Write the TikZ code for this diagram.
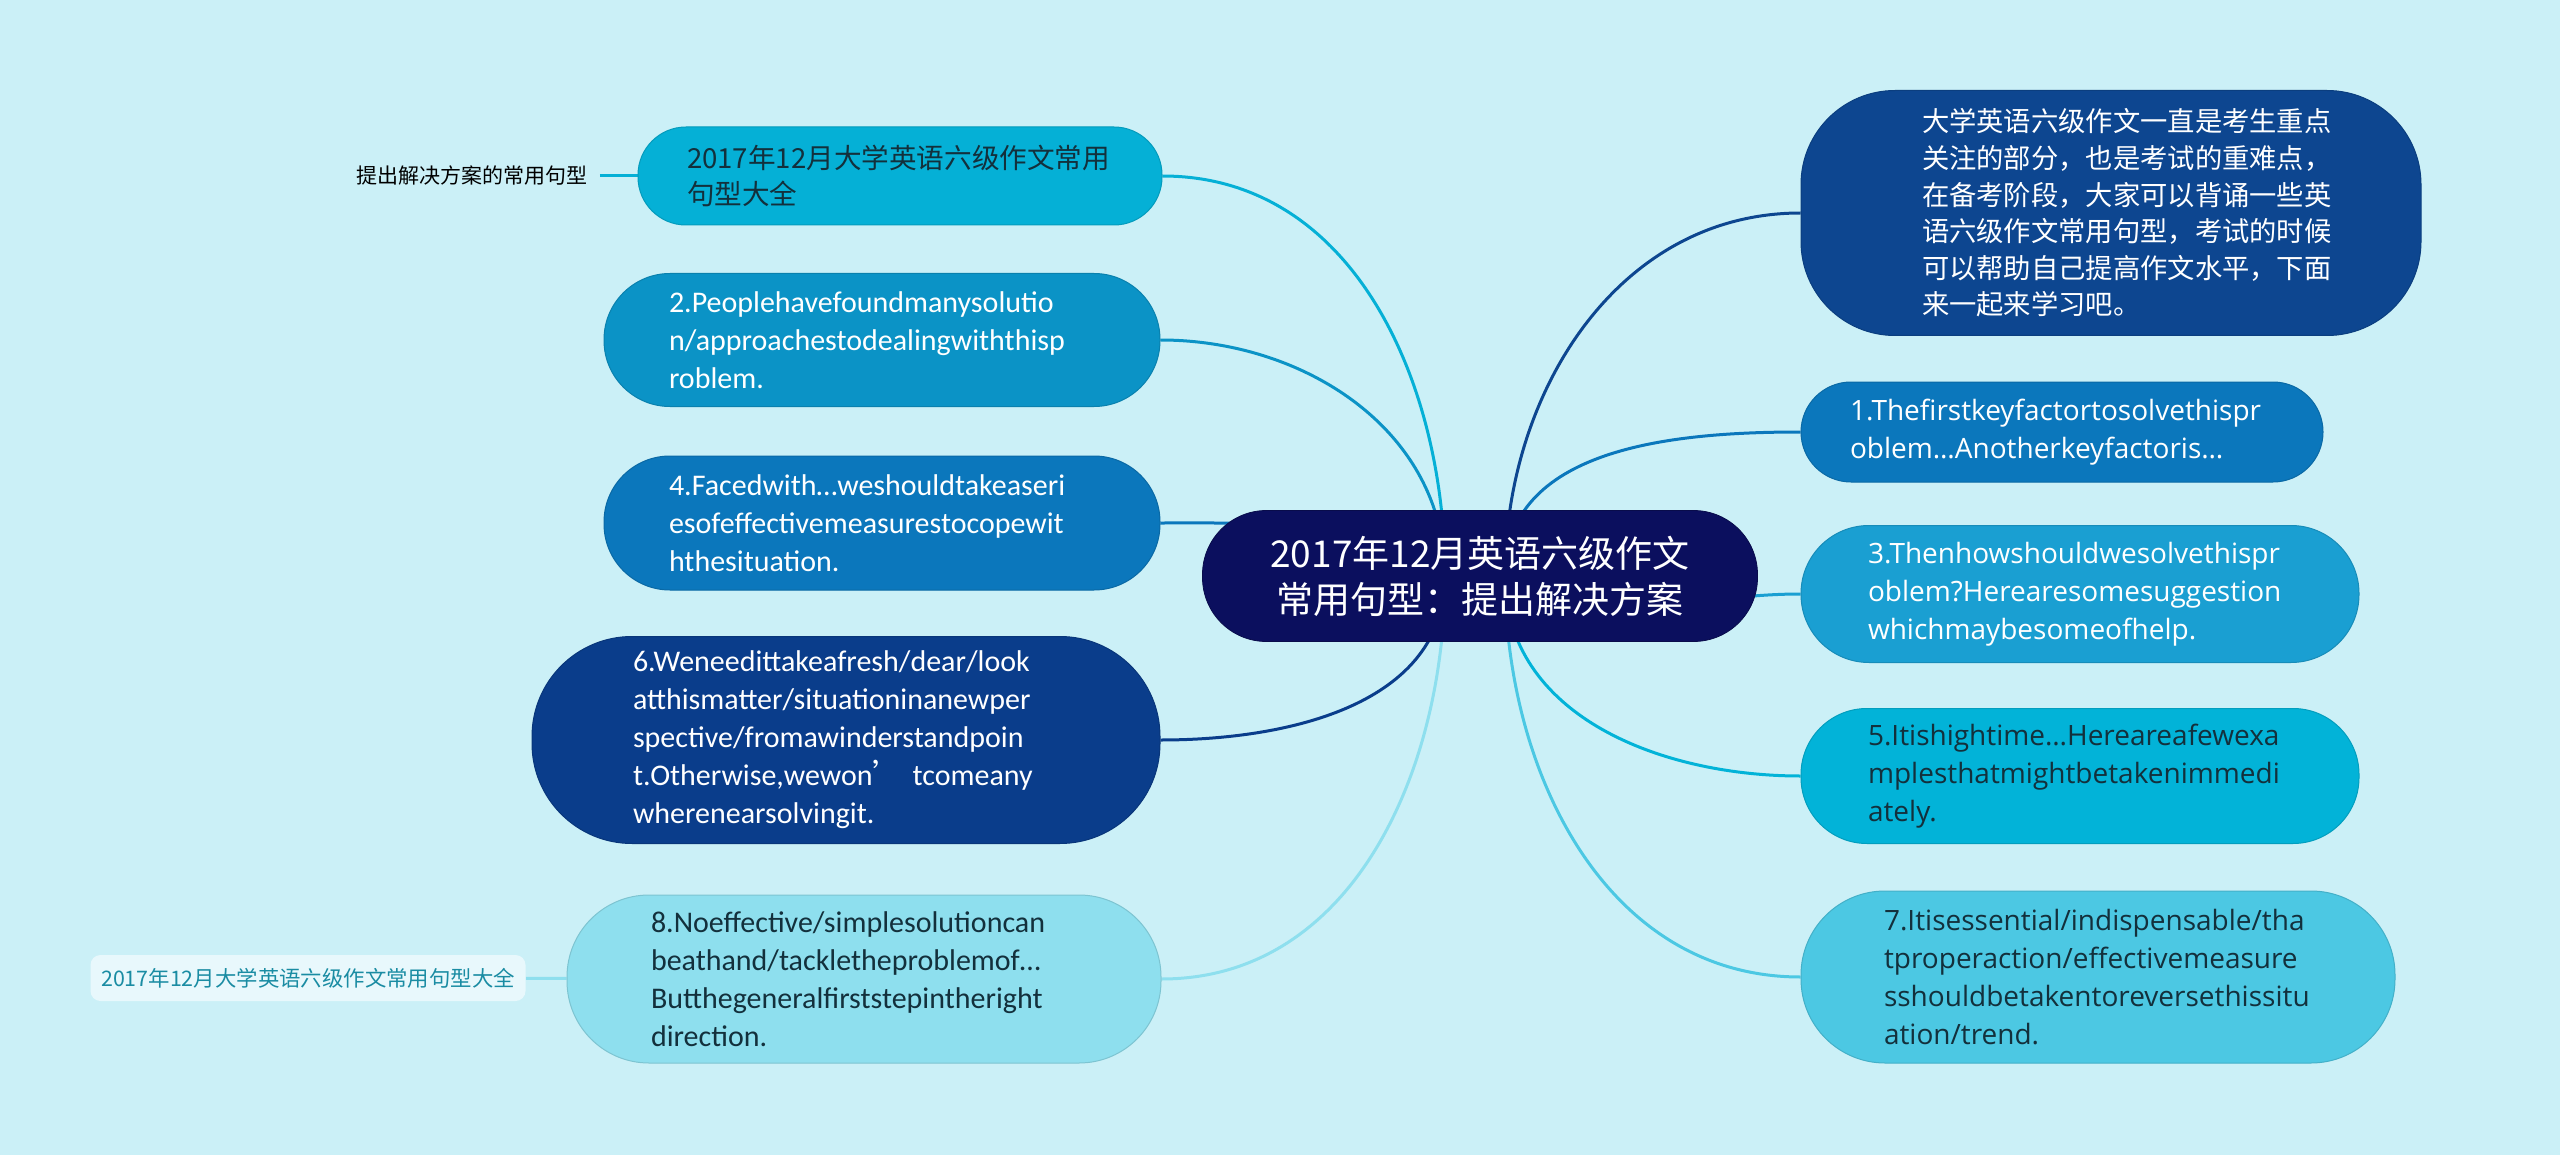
\documentclass[tikz,border=0pt]{standalone}
\usepackage{fontspec}
\setmainfont{Carlito}
\newfontfamily\cjk{Noto Sans CJK SC}
\newfontfamily\segoe{Open Sans}
\usetikzlibrary{backgrounds}

\definecolor{bgcol}{HTML}{CBF0F7}
\definecolor{navy}{HTML}{0B0F5E}
\definecolor{cyanA}{HTML}{05B0D6}
\definecolor{blueB}{HTML}{0B93C6}
\definecolor{blueC}{HTML}{0B77BC}
\definecolor{blueD}{HTML}{0A3D8B}
\definecolor{cyanE}{HTML}{8EDFEE}
\definecolor{blueR}{HTML}{0D4690}
\definecolor{cyanR}{HTML}{1A9FD2}
\definecolor{cyanS}{HTML}{02B3D8}
\definecolor{cyanT}{HTML}{4CC8E3}
\definecolor{darktext}{HTML}{13303C}
\definecolor{leafbg}{HTML}{E8F8FC}
\definecolor{leaftext}{HTML}{1A8CA3}

\tikzset{
  branch/.style={fill=#1, draw=#1!88!black, line width=0.5pt, text=white,
    text width=213pt, align=left, font=\fontsize{15}{19}\selectfont},
  rbranch/.style={branch=#1, font=\segoe\fontsize{14}{19}\selectfont},
  link/.style={draw=#1, line width=1.5pt},
}

\begin{document}
\begin{tikzpicture}[x=0.5pt, y=-0.5pt]
  \useasboundingbox (0,0) rectangle (2560,1155);

  % centre
  \node[fill=navy, draw=navy!80!black, text=white, minimum width=277.5pt, minimum height=65.5pt,
    rounded corners=32pt, align=center, font=\cjk\fontsize{18.5}{23}\selectfont]
    (topic) at (1480,576) {2017年12月英语六级作文\\常用句型：提出解决方案};
  \coordinate (cl) at (1445,576);
  \coordinate (cr) at (1505,576);

  % left side
  \node[branch=cyanA, text=darktext, inner xsep=24.5pt, minimum height=49pt, rounded corners=24pt,
    font=\cjk\fontsize{13.8}{18}\selectfont]
    (daquan) at (900,176) {2017年12月大学英语六级作文常用\\句型大全};
  \node[branch=blueB, inner xsep=32.5pt, minimum height=66.5pt, rounded corners=33pt]
    (people) at (882,340) {2.Peoplehavefoundmanysolutio\\n/approachestodealingwiththisp\\roblem.};
  \node[branch=blueC, inner xsep=32.5pt, minimum height=67pt, rounded corners=33pt]
    (faced) at (882,523) {4.Facedwith…weshouldtakeaseri\\esofeffectivemeasurestocopewit\\hthesituation.};
  \node[branch=blueD, inner xsep=50.5pt, minimum height=103.5pt, rounded corners=50pt]
    (fresh) at (846,740) {6.Weneedittakeafresh/dear/look\\atthismatter/situationinanewper\\spective/fromawinderstandpoin\\t.Otherwise,wewon{\cjk ’}\ tcomeany\\wherenearsolvingit.};
  \node[branch=cyanE, text=darktext, inner xsep=42pt, minimum height=84pt, rounded corners=41pt]
    (noeff) at (864,979) {8.Noeffective/simplesolutioncan\\beathand/tackletheproblemof…\\Butthegeneralfirststepintheright\\direction.};

  % leaves
  \node[font=\cjk\fontsize{10.5}{13}\selectfont, inner xsep=6pt] (tichu) at (472,176) {提出解决方案的常用句型};
  \node[fill=leafbg, text=leaftext, minimum width=217.5pt, minimum height=23pt, rounded corners=5pt,
    font=\cjk\fontsize{10.7}{13}\selectfont] (quanji) at (308,978) {2017年12月大学英语六级作文常用句型大全};

  % right side
  \node[branch=blueR, inner xsep=60.5pt, text width=189pt, minimum height=122.5pt, rounded corners=47pt,
    font=\cjk\fontsize{13.65}{18.3}\selectfont]
    (intro) at (2111,213) {大学英语六级作文一直是考生重点\\关注的部分，也是考试的重难点，\\在备考阶段，大家可以背诵一些英\\语六级作文常用句型，考试的时候\\可以帮助自己提高作文水平，下面\\来一起来学习吧。};
  \node[rbranch=blueC, inner xsep=24.5pt, text width=212pt, minimum height=50pt, rounded corners=25pt]
    (first) at (2062,432) {1.Thefirstkeyfactortosolvethispr\\oblem…Anotherkeyfactoris…};
  \node[rbranch=cyanR, inner xsep=33.5pt, text width=212pt, minimum height=68.5pt, rounded corners=34pt]
    (how) at (2080,594) {3.Thenhowshouldwesolvethispr\\oblem?Herearesomesuggestion\\whichmaybesomeofhelp.};
  \node[rbranch=cyanS, text=darktext, inner xsep=33.5pt, text width=212pt, minimum height=67.5pt, rounded corners=33pt]
    (high) at (2080,776) {5.Itishightime…Hereareafewexa\\mplesthatmightbetakenimmedi\\ately.};
  \node[rbranch=cyanT, text=darktext, inner xsep=41.5pt, text width=214pt, minimum height=86pt, rounded corners=42pt]
    (essen) at (2098,977) {7.Itisessential/indispensable/tha\\tproperaction/effectivemeasure\\sshouldbetakentoreversethissitu\\ation/trend.};

  \begin{scope}[on background layer]
    \fill[bgcol] (0,0) rectangle (2560,1155);
    \draw[link=cyanA] (cl) to[out=90, in=0] (daquan.east);
    \draw[link=blueB] (cl) to[out=90, in=0] (people.east);
    \draw[link=blueC] (cl) to[out=150, in=0] (faced.east);
    \draw[link=blueD] (cl) to[out=-90, in=0] (fresh.east);
    \draw[link=cyanE] (cl) to[out=-90, in=0] (noeff.east);
    \draw[link=blueR] (cr) to[out=90, in=180] (intro.west);
    \draw[link=blueC] (cr) to[out=90, in=180] (first.west);
    \draw[link=cyanR] (cr) to[out=-30, in=180] (how.west);
    \draw[link=cyanS] (cr) to[out=-90, in=180] (high.west);
    \draw[link=cyanT] (cr) to[out=-90, in=180] (essen.west);
    \draw[link=cyanA] (tichu) -- (daquan);
    \draw[link=cyanE] (quanji) -- (noeff);
  \end{scope}
\end{tikzpicture}
\end{document}
